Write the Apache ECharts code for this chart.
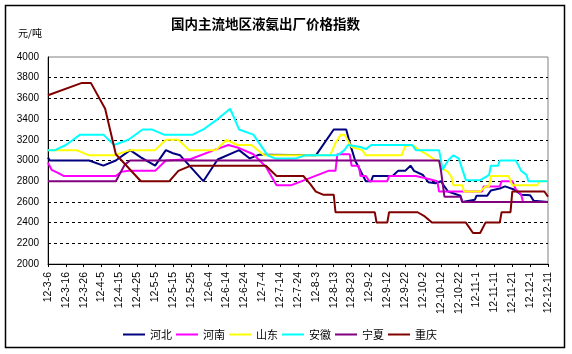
<!DOCTYPE html>
<html><head><meta charset="utf-8">
<script src="https://cdn.jsdelivr.net/npm/echarts@6/dist/echarts.min.js"></script>
<style>html,body{margin:0;padding:0;background:#fff}#c{width:572px;height:354px}</style>
</head><body><div id="c"></div>
<script>
// x values = days since 2012-03-06
const tickLabels = ['12-3-6','12-3-16','12-3-26','12-4-5','12-4-15','12-4-25','12-5-5','12-5-15','12-5-25','12-6-4','12-6-14','12-6-24','12-7-4','12-7-14','12-7-24','12-8-3','12-8-13','12-8-23','12-9-2','12-9-12','12-9-22','12-10-2','12-10-12','12-10-22','12-11-1','12-11-11','12-11-21','12-12-1','12-12-11'];
const seriesNames = ['河北','河南','山东','安徽','宁夏','重庆'];

const hebei = [[0,3030],[1,3000],[23,3000],[31,2950],[38,3000],[46,3100],[52,3030],[60,2950],[66,3100],[70,3070],[74,3050],[87,2800],[95,3010],[107,3100],[113,3020],[118,3055],[122,3055],[150,3050],[160,3300],[167,3300],[169,3170],[172,3000],[178,2800],[181,2800],[182,2850],[193,2850],[196,2900],[200,2900],[203,2950],[205,2900],[210,2860],[213,2790],[217,2780],[220,2800],[224,2700],[231,2660],[232,2600],[239,2620],[240,2660],[246,2660],[248,2710],[253,2730],[256,2750],[261,2720],[265,2670],[270,2665],[272,2610],[273,2600],[280,2600]];
const henan = [[0,2980],[2,2910],[5,2885],[9,2850],[38,2850],[41,2890],[45,2900],[60,2900],[66,3000],[80,3015],[93,3100],[101,3150],[107,3120],[115,3060],[122,2940],[128,2760],[136,2760],[157,2900],[161,2900],[162,3060],[169,3060],[170,2950],[174,2950],[175,2850],[178,2850],[180,2800],[190,2800],[191,2850],[206,2850],[211,2830],[218,2800],[219,2700],[243,2700],[244,2750],[253,2750],[254,2800],[260,2800],[262,2720],[265,2670],[266,2600],[280,2600]];
const shandong = [[0,3100],[16,3100],[23,3050],[37,3050],[46,3100],[60,3100],[66,3200],[73,3200],[79,3100],[94,3100],[100,3200],[106,3150],[114,3150],[121,3050],[158,3050],[161,3170],[164,3250],[166,3250],[169,3160],[170,3130],[176,3100],[178,3050],[198,3050],[200,3140],[204,3150],[208,3100],[213,3050],[217,3000],[219,3000],[221,2920],[224,2890],[226,2840],[227,2760],[232,2760],[233,2700],[242,2700],[245,2750],[247,2750],[248,2850],[258,2850],[260,2760],[274,2760],[275,2800],[280,2800]];
const anhui = [[0,3100],[4,3100],[10,3150],[18,3250],[31,3250],[37,3150],[45,3200],[53,3300],[58,3300],[65,3250],[81,3250],[87,3300],[95,3400],[102,3500],[107,3300],[115,3250],[123,3050],[127,3020],[139,3020],[144,3050],[162,3050],[166,3100],[168,3150],[175,3130],[178,3110],[181,3150],[204,3150],[206,3100],[219,3100],[221,2910],[224,3000],[227,3050],[230,3020],[234,2810],[242,2810],[245,2840],[247,2860],[248,2950],[252,2950],[253,3000],[262,3000],[265,2900],[268,2860],[269,2800],[280,2800]];
const ningxia = [[0,2800],[38,2800],[43,2960],[46,3000],[219,3000],[220,2910],[222,2650],[231,2650],[232,2600],[280,2600]];
const chongqing = [[0,3630],[19,3750],[24,3750],[32,3500],[38,3060],[52,2800],[68,2800],[73,2900],[80,2950],[122,2950],[128,2850],[143,2850],[147,2770],[150,2700],[154,2670],[160,2670],[161,2500],[183,2500],[184,2400],[190,2400],[191,2500],[207,2500],[211,2460],[215,2400],[234,2400],[238,2300],[242,2300],[245,2400],[253,2400],[254,2500],[259,2500],[260,2700],[278,2700],[280,2650]];

const seriesData = [hebei, henan, shandong, anhui, ningxia, chongqing];
const colors = ['#000080','#FF00FF','#FFFF00','#00FFFF','#800080','#800000'];

const chart = echarts.init(document.getElementById('c'), null, {renderer:'canvas'});
const cjk = '"Noto Sans CJK SC", sans-serif';
const num = '"Liberation Sans", Arial, sans-serif';
chart.setOption({
  animation: false,
  backgroundColor: '#fff',
  title: {
    text: '国内主流地区液氨出厂价格指数',
    left: 166, top: 12,
    textStyle: {fontSize: 13.5, fontWeight: 'bold', color: '#000', fontFamily: cjk}
  },
  graphic: [
    {type: 'rect', shape: {x: 5.5, y: 5.5, width: 559, height: 342}, style: {fill: 'none', stroke: '#000', lineWidth: 1.5}, silent: true},
    {type: 'text', left: 18, top: 28, style: {text: '元/吨', fontSize: 10, fill: '#000', fontFamily: cjk}}
  ],
  legend: {
    data: seriesNames,
    left: 118, top: 324,
    icon: 'rect', itemWidth: 22, itemHeight: 2, itemGap: 4,
    textStyle: {fontSize: 11, color: '#000', fontFamily: cjk}
  },
  grid: {left: 48, top: 57, width: 500, height: 207, show: true, borderColor: '#808080', borderWidth: 1, backgroundColor: 'transparent'},
  xAxis: {
    type: 'value', min: 0, max: 280, interval: 10,
    axisLine: {show: true, lineStyle: {color: '#000', width: 1}},
    axisTick: {show: true, inside: false, length: 3, lineStyle: {color: '#000'}},
    axisLabel: {rotate: 90, margin: 8, fontSize: 10.5, color: '#000', fontFamily: num,
      formatter: v => (v % 10 === 0 && tickLabels[v / 10]) ? tickLabels[v / 10] : ''},
    splitLine: {show: false}
  },
  yAxis: {
    type: 'value', min: 2000, max: 4000, interval: 200,
    axisLine: {show: true, lineStyle: {color: '#000', width: 1}},
    axisTick: {show: false},
    axisLabel: {fontSize: 10, margin: 9, color: '#000', fontFamily: num, formatter: v => String(v)},
    splitLine: {show: true, showMaxLine: false, showMinLine: false, lineStyle: {color: '#000', type: [3, 3], width: 1}}
  },
  series: seriesNames.map((n, i) => ({
    name: n, type: 'line', data: seriesData[i], showSymbol: false, symbol: 'none',
    color: colors[i], lineStyle: {width: 2, color: colors[i]}, z: 2 + i
  }))
});
</script>
</body></html>
